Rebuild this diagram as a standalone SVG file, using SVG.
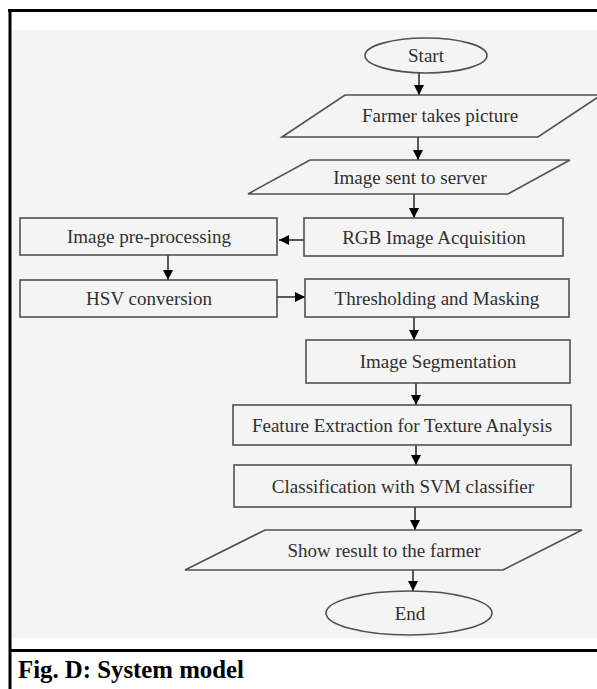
<svg xmlns="http://www.w3.org/2000/svg" width="597" height="689" viewBox="0 0 597 689">
  <style>
    .shape { fill: none; stroke: #505050; stroke-width: 1.6; }
    .label { font-family: "Liberation Serif", "Times New Roman", serif; font-size: 19px; fill: #303030; text-anchor: middle; }
    .conn { stroke: #303030; stroke-width: 1.6; fill: none; marker-end: url(#arrow); }
    .frame { stroke: #000; stroke-width: 3; fill: none; }
    .caption { font-family: "Liberation Serif", "Times New Roman", serif; font-size: 24.8px; font-weight: bold; fill: #000; }
  </style>
  <defs>
    <marker id="arrow" markerUnits="userSpaceOnUse" markerWidth="12" markerHeight="12" viewBox="0 0 12 12" refX="11" refY="6" orient="auto">
      <path d="M1,1 L11,6 L1,11 Z" fill="#000"/>
    </marker>
  </defs>

  <rect x="0" y="0" width="597" height="689" fill="#fff"/>
  <rect x="12" y="30" width="585" height="608" fill="#f4f4f4"/>

  <g id="frame">
    <line class="frame" x1="8" y1="10.5" x2="597" y2="10.5"/>
    <line class="frame" x1="10" y1="9" x2="10" y2="689"/>
    <line class="frame" x1="10" y1="650.5" x2="597" y2="650.5"/>
  </g>

  <g id="connectors">
    <line class="conn" x1="419" y1="73" x2="419" y2="95"/>
    <line class="conn" x1="418" y1="137" x2="418" y2="160"/>
    <line class="conn" x1="414" y1="194" x2="414" y2="218"/>
    <line class="conn" x1="304" y1="240" x2="279" y2="240"/>
    <line class="conn" x1="168" y1="255" x2="168" y2="280"/>
    <line class="conn" x1="277" y1="297" x2="305" y2="297"/>
    <line class="conn" x1="414" y1="317" x2="414" y2="340"/>
    <line class="conn" x1="416" y1="383" x2="416" y2="405"/>
    <line class="conn" x1="416" y1="445" x2="416" y2="465"/>
    <line class="conn" x1="415" y1="507" x2="415" y2="530"/>
    <line class="conn" x1="413" y1="570" x2="413" y2="591"/>
  </g>

  <g id="start">
    <ellipse class="shape" cx="426" cy="55.5" rx="61" ry="17.5"/>
    <text class="label" x="426" y="62">Start</text>
  </g>
  <g id="farmer-takes-picture">
    <polygon class="shape" points="345,95 601,95 538,137 282,137"/>
    <text class="label" x="440" y="122">Farmer takes picture</text>
  </g>
  <g id="image-sent">
    <polygon class="shape" points="310,160 570,160 508,194 248,194"/>
    <text class="label" x="410" y="184">Image sent to server</text>
  </g>
  <g id="rgb-acquisition">
    <rect class="shape" x="304" y="218" width="259" height="38"/>
    <text class="label" x="434" y="244">RGB Image Acquisition</text>
  </g>
  <g id="pre-processing">
    <rect class="shape" x="20" y="218" width="257" height="37"/>
    <text class="label" x="149" y="243">Image pre-processing</text>
  </g>
  <g id="hsv-conversion">
    <rect class="shape" x="20" y="280" width="257" height="37"/>
    <text class="label" x="149" y="305">HSV conversion</text>
  </g>
  <g id="thresholding">
    <rect class="shape" x="305" y="279" width="264" height="38"/>
    <text class="label" x="437" y="305">Thresholding and Masking</text>
  </g>
  <g id="segmentation">
    <rect class="shape" x="306" y="340" width="264" height="43"/>
    <text class="label" x="438" y="368">Image Segmentation</text>
  </g>
  <g id="feature-extraction">
    <rect class="shape" x="233" y="405" width="338" height="40"/>
    <text class="label" x="402" y="431.5">Feature Extraction for Texture Analysis</text>
  </g>
  <g id="classification">
    <rect class="shape" x="234" y="465" width="337" height="42"/>
    <text class="label" x="403" y="492.5">Classification with SVM classifier</text>
  </g>
  <g id="show-result">
    <polygon class="shape" points="265,530 582,530 503,570 185,570"/>
    <text class="label" x="384" y="556.5">Show result to the farmer</text>
  </g>
  <g id="end">
    <ellipse class="shape" cx="409" cy="613" rx="83" ry="22"/>
    <text class="label" x="410" y="619.5">End</text>
  </g>

  <text class="caption" x="18" y="678">Fig. D: System model</text>
</svg>
